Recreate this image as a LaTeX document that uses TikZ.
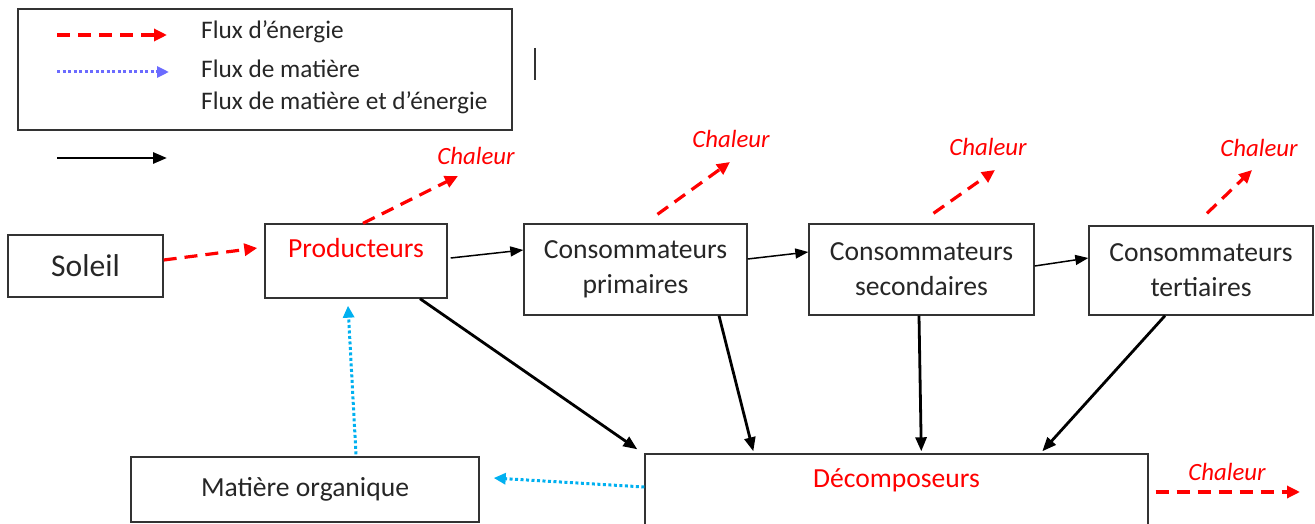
\documentclass[tikz,border=0pt]{standalone}
\usepackage{fontspec}
\setmainfont{Carlito}
\usetikzlibrary{arrows.meta}
\definecolor{flred}{HTML}{FF0000}
\definecolor{flblue}{HTML}{00B0F0}
\definecolor{flviolet}{HTML}{6B6BFF}
\definecolor{txt}{HTML}{262626}
\tikzset{Box/.style = {draw=black!80, line width=1.4pt, inner sep=0pt, text=txt, align=center, font=\fontsize{27.6}{35}\selectfont}}
\tikzset{Energie/.style = {flred, line width=3.2pt, dash pattern=on 13pt off 8pt, -{Triangle[length=13pt,width=12pt]}}}
\tikzset{Matiere/.style = {flblue, line width=3pt, dash pattern=on 3pt off 2.5pt, -{Triangle[length=12pt,width=11pt]}}}
\tikzset{Flux/.style = {black, line width=2.8pt, -{Triangle[length=14pt,width=11pt]}}}
\tikzset{FluxFin/.style = {black, line width=1.5pt, -{Triangle[length=13pt,width=10pt]}}}
\tikzset{Chaleur/.style = {flred, font=\fontsize{24.8}{30}\selectfont\itshape}}
\tikzset{Legende/.style = {anchor=west, inner sep=0pt, text=txt, font=\fontsize{25.3}{30}\selectfont}}

\begin{document}
\begin{tikzpicture}[x=1pt,y=-1pt]
  \useasboundingbox (0,0) rectangle (1315,524);
  \node[Box, minimum width=494pt, minimum height=121pt] (Leg) at (265,69.5) {};
  \coordinate (L1a) at (57,35);
  \coordinate (L1b) at (167,35);
  \coordinate (L2a) at (57,72);
  \coordinate (L2b) at (169,72);
  \coordinate (L3a) at (57,158);
  \coordinate (L3b) at (167,158);
  \draw[Energie] (L1a) -- (L1b);
  \draw[Matiere, flviolet] (L2a) -- (L2b);
  \draw[Flux] (L3a) -- (L3b);
  \node[Legende] (LE) at (201,32) {Flux d’énergie};
  \node[Legende] (LM) at (201,69) {Flux de matière};
  \node[Legende] (LME) at (201,103) {Flux de matière et d’énergie};
  \draw[black!80, line width=1.3pt] (535,48) -- (535,80);

  \node[Box, minimum width=155pt, minimum height=62pt, font=\fontsize{31.6}{38}\selectfont] (Soleil) at (85.5,266) {Soleil};
  \node[Box, minimum width=182pt, minimum height=74pt, text=flred, text depth=27pt] (Prod) at (356,261) {Producteurs};
  \node[Box, minimum width=223pt, minimum height=91pt] (Prim) at (635.5,269.5) {Consommateurs\\primaires};
  \node[Box, minimum width=225pt, minimum height=91pt] (Sec) at (921.5,269.5) {Consommateurs\\secondaires};
  \node[Box, minimum width=224pt, minimum height=89pt] (Tert) at (1201,270.5) {Consommateurs\\tertiaires};
  \node[Box, minimum width=348pt, minimum height=65pt] (Mat) at (305,489.5) {Matière organique};
  \node[Box, minimum width=503pt, minimum height=90pt, text=flred, text depth=41pt] (Dec) at (896.5,499) {Décomposeurs};

  \coordinate (HP) at (458,176);
  \coordinate (HPrim) at (730,162);
  \coordinate (HSec) at (995,170);
  \coordinate (HTert) at (1252,170);
  \coordinate (HDec) at (1300,492);
  \node[Chaleur] (CP) at (476,156) {Chaleur};
  \node[Chaleur] (CPrim) at (731,139) {Chaleur};
  \node[Chaleur] (CSec) at (988,147) {Chaleur};
  \node[Chaleur] (CTert) at (1259,148) {Chaleur};
  \node[Chaleur] (CDec) at (1227,472) {Chaleur};

  \draw[Energie] ([yshift=6pt]Soleil.east) -- ([xshift=-7pt,yshift=13pt]Prod.west);
  \draw[Energie] ([xshift=7pt]Prod.north) -- (HP);
  \draw[Energie] ([xshift=22pt,yshift=9pt]Prim.north) -- (HPrim);
  \draw[Energie] ([xshift=12pt,yshift=10pt]Sec.north) -- (HSec);
  \draw[Energie] ([xshift=6pt,yshift=12pt]Tert.north) -- (HTert);
  \draw[Energie] ([xshift=7pt,yshift=7pt]Dec.east) -- (HDec);

  \draw[FluxFin] ([xshift=3pt,yshift=3pt]Prod.east) -- ([yshift=19.5pt]Prim.west);
  \draw[FluxFin] ([yshift=10.5pt]Prim.east) -- ([yshift=17.5pt]Sec.west);
  \draw[FluxFin] ([yshift=3.5pt]Sec.east) -- ([yshift=12.5pt]Tert.west);

  \draw[Flux] ([xshift=64pt]Prod.south) -- ([xshift=-7pt,yshift=4pt]Dec.north west);
  \draw[Flux] ([xshift=83.5pt]Prim.south) -- ([xshift=109pt,yshift=2pt]Dec.north west);
  \draw[Flux] ([xshift=-2.5pt]Sec.south) -- ([xshift=277pt,yshift=2pt]Dec.north west);
  \draw[Flux] ([xshift=-36pt]Tert.south) -- ([xshift=398pt,yshift=2pt]Dec.north west);

  \draw[Matiere] ([xshift=51pt,yshift=2pt]Mat.north) -- ([xshift=-8pt,yshift=-7pt]Prod.south);
  \draw[Matiere] ([yshift=12pt]Dec.west) -- ([xshift=14pt,yshift=11.5pt]Mat.east);
\end{tikzpicture}
\end{document}
